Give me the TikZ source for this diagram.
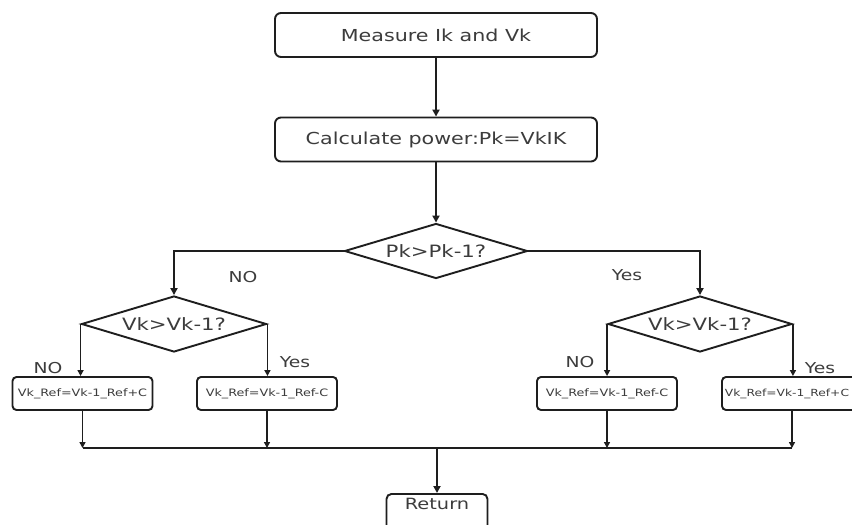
\documentclass[tikz,border=0pt]{standalone}
\usepackage{fontspec}
\setmainfont{DejaVu Sans}[FakeStretch=1.25]
\usetikzlibrary{arrows.meta,shapes.geometric}
\definecolor{ink}{HTML}{1E1E1E}
\definecolor{txtc}{HTML}{3C3C3C}
\begin{document}
\begin{tikzpicture}[x=1pt,y=-1pt,
  proc/.style={draw=ink, line width=1.9pt, rounded corners=6pt, minimum width=322pt, minimum height=44pt, inner sep=0pt, text=txtc, font=\fontsize{16.5}{18}\selectfont},
  small/.style={draw=ink, line width=1.9pt, rounded corners=4pt, minimum width=140pt, minimum height=33pt, inner sep=0pt, text=txtc, font=\fontsize{10.2}{12}\selectfont},
  dec/.style={draw=ink, line width=1.9pt, diamond, aspect=3.3, minimum width=184pt, minimum height=56pt, inner sep=0pt, text=txtc, font=\fontsize{17}{19}\selectfont},
  lbl/.style={text=txtc, inner sep=0pt, font=\fontsize{15}{17}\selectfont},
  thickarr/.style={draw=ink, line width=2.8pt, -{Triangle[length=7pt,width=7pt]}},
  arr/.style={draw=ink, line width=1.7pt, -{Triangle[length=6pt,width=6pt]}},
  busline/.style={draw=ink, line width=2.1pt}
 ]
\useasboundingbox (0,0) rectangle (852,525);
\fill[white] (0,0) rectangle (852,525);

\node[proc] (m1) at (436,35) {Measure Ik and Vk};
\node[proc] (m2) at (436,139.5) {Calculate power:Pk=VkIK};
\node[dec, minimum width=183pt, minimum height=55pt] (d1) at (436,251) {Pk>Pk-1?};
\node[dec, minimum width=185pt] (d2L) at (174,324) {Vk>Vk-1?};
\node[dec] (d2R) at (700,324) {Vk>Vk-1?};

\node[small] (b1) at (82.5,393.5) {Vk\_Ref=Vk-1\_Ref+C};
\node[small] (b2) at (267,393.5) {Vk\_Ref=Vk-1\_Ref-C};
\node[small] (b3) at (607,393.5) {Vk\_Ref=Vk-1\_Ref-C};
\node[small, font=\fontsize{9.8}{12}\selectfont] (b4) at (792,393.5) {\kern-10pt Vk\_Ref=Vk-1\_Ref+C};

\node[draw=ink, line width=1.9pt, rounded corners=5pt, minimum width=101pt, inner xsep=0pt, inner ysep=5pt, text height=11pt, text depth=30pt, text=txtc, font=\fontsize{15.5}{17}\selectfont, anchor=north] (ret) at (437,493) {Return};

\coordinate (bus) at (437,448);

\node[lbl] (no1) at (243,277) {NO};
\node[lbl] (yes1) at (627,275) {Yes};
\node[lbl] (no2) at (48,368) {NO};
\node[lbl] (yes2) at (295,362) {Yes};
\node[lbl] (no3) at (580,362) {NO};
\node[lbl] (yes3) at (820,368) {Yes};

\draw[thickarr] (m1.south) -- (m2.north);
\draw[thickarr] (m2.south) -- (d1.north);
\draw[thickarr] (d1.west) -| (d2L.north);
\draw[thickarr] (d1.east) -| (d2R.north);

\draw[arr] (d2L.west) -- (d2L.west |- b1.north);
\draw[arr] (d2L.east) -- (d2L.east |- b2.north);
\draw[arr] (d2R.west) -- (d2R.west |- b3.north);
\draw[arr] (d2R.east) -- (d2R.east |- b4.north);

\draw[arr] (b1.south) -- (b1.south |- bus);
\draw[arr] (b2.south) -- (b2.south |- bus);
\draw[arr] (b3.south) -- (b3.south |- bus);
\draw[arr] (b4.south) -- (b4.south |- bus);
\draw[busline] (b1.south |- bus) -- (b4.south |- bus);
\draw[thickarr] (bus) -- (ret.north);
\end{tikzpicture}
\end{document}
